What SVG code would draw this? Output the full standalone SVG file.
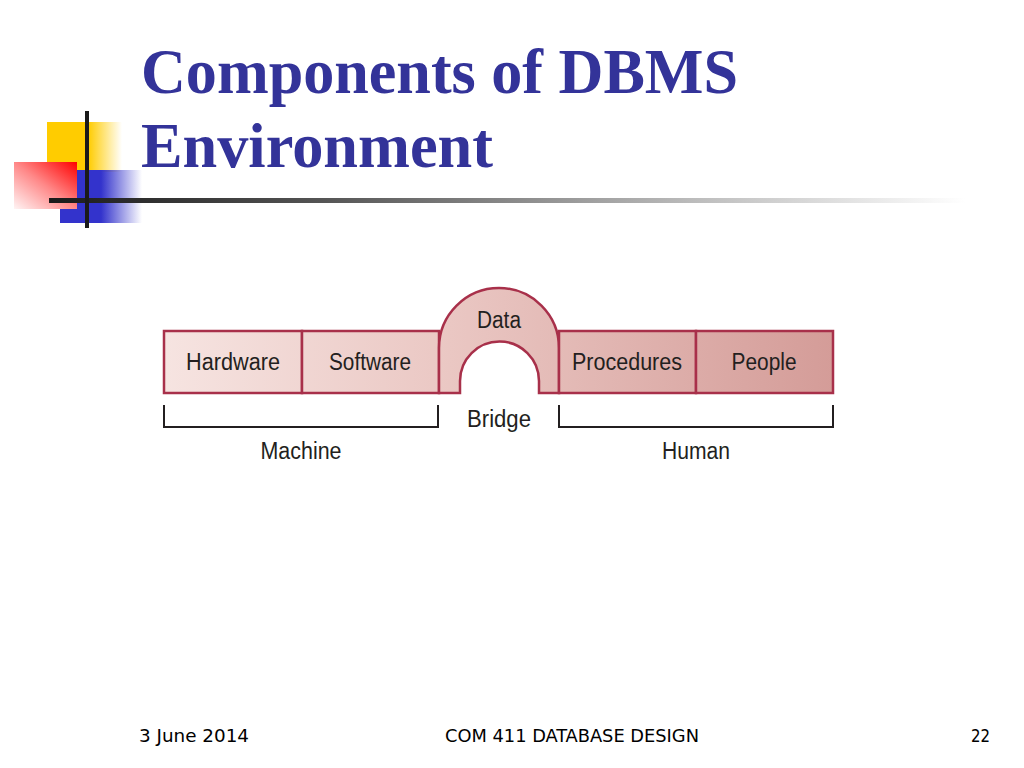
<svg xmlns="http://www.w3.org/2000/svg" width="1024" height="768" viewBox="0 0 1024 768">
<defs>
<linearGradient id="gBox" gradientUnits="userSpaceOnUse" x1="164" y1="0" x2="834" y2="0">
<stop offset="0" stop-color="#f6e4e1"/>
<stop offset="0.4" stop-color="#ebc9c5"/>
<stop offset="1" stop-color="#d49c98"/>
</linearGradient>
<linearGradient id="gYel" x1="0" y1="0" x2="1" y2="0">
<stop offset="0" stop-color="#ffcc00"/>
<stop offset="0.55" stop-color="#ffcc00"/>
<stop offset="1" stop-color="#ffcc00" stop-opacity="0"/>
</linearGradient>
<linearGradient id="gBlu" x1="0" y1="0" x2="1" y2="0">
<stop offset="0" stop-color="#3333cc"/>
<stop offset="0.5" stop-color="#3333cc"/>
<stop offset="1" stop-color="#3333cc" stop-opacity="0"/>
</linearGradient>
<linearGradient id="gRed" x1="1" y1="0" x2="0" y2="1">
<stop offset="0" stop-color="#ff0000"/>
<stop offset="0.5" stop-color="#ff8888"/>
<stop offset="1" stop-color="#fff4f4"/>
</linearGradient>
<linearGradient id="gLine" gradientUnits="userSpaceOnUse" x1="49" y1="0" x2="965" y2="0">
<stop offset="0" stop-color="#1a1a1a"/>
<stop offset="0.3" stop-color="#555555"/>
<stop offset="0.7" stop-color="#bbbbbb"/>
<stop offset="1" stop-color="#ffffff"/>
</linearGradient>
<style>
.box{fill:url(#gBox);stroke:#a8304a;stroke-width:2.5}
.lbl{font-family:"Liberation Sans",Arial,sans-serif;font-size:23px;fill:#231f20;text-anchor:middle}
.brk{fill:none;stroke:#231f20;stroke-width:2}
.title{font-family:"Liberation Serif","Times New Roman",serif;font-weight:bold;font-size:64px;fill:#333399}
.foot{font-family:"DejaVu Sans Condensed","Liberation Sans",sans-serif;font-size:18px;fill:#000000}
</style>
</defs>
<rect width="1024" height="768" fill="#ffffff"/>

<g id="decoration">
<rect x="47" y="122" width="75" height="50" fill="url(#gYel)"/>
<rect x="60" y="170" width="82" height="53" fill="url(#gBlu)"/>
<rect x="14" y="162" width="63" height="47" fill="url(#gRed)"/>
<rect x="49" y="198" width="916" height="5" fill="url(#gLine)"/>
<rect x="85" y="111" width="4" height="117" fill="#1a1a1a"/>
</g>

<g id="title">
<text class="title" x="141" y="93" textLength="597" lengthAdjust="spacingAndGlyphs">Components of DBMS</text>
<text class="title" x="141" y="167" textLength="352" lengthAdjust="spacingAndGlyphs">Environment</text>
</g>

<g id="hardware">
<rect class="box" x="164" y="331" width="138" height="62"/>
<text class="lbl" x="233" y="370" textLength="94" lengthAdjust="spacingAndGlyphs">Hardware</text>
</g>
<g id="software">
<rect class="box" x="302" y="331" width="137" height="62"/>
<text class="lbl" x="370" y="370" textLength="82" lengthAdjust="spacingAndGlyphs">Software</text>
</g>
<g id="data">
<path class="box" d="M439,393 L439,348 A60,60 0 0 1 559,348 L559,393 L539,393 L539,381 A39.5,39.5 0 0 0 460,381 L460,393 Z"/>
<text class="lbl" x="499" y="328" textLength="44" lengthAdjust="spacingAndGlyphs">Data</text>
</g>
<g id="procedures">
<rect class="box" x="559" y="331" width="137" height="62"/>
<text class="lbl" x="627" y="370" textLength="110" lengthAdjust="spacingAndGlyphs">Procedures</text>
</g>
<g id="people">
<rect class="box" x="696" y="331" width="137" height="62"/>
<text class="lbl" x="764" y="370" textLength="65" lengthAdjust="spacingAndGlyphs">People</text>
</g>

<g id="connectors">
<path class="brk" d="M164,405 L164,427 L438,427 L438,405"/>
<path class="brk" d="M559,405 L559,427 L833,427 L833,405"/>
</g>

<g id="machine">
<text class="lbl" x="301" y="459" textLength="81" lengthAdjust="spacingAndGlyphs">Machine</text>
</g>
<g id="bridge">
<text class="lbl" x="499" y="427" textLength="64" lengthAdjust="spacingAndGlyphs">Bridge</text>
</g>
<g id="human">
<text class="lbl" x="696" y="459" textLength="68" lengthAdjust="spacingAndGlyphs">Human</text>
</g>

<g id="footer">
<text class="foot" x="139" y="742" textLength="110" lengthAdjust="spacingAndGlyphs">3 June 2014</text>
<text class="foot" x="445" y="742" textLength="254" lengthAdjust="spacingAndGlyphs">COM 411 DATABASE DESIGN</text>
<text class="foot" x="971" y="742" textLength="19" lengthAdjust="spacingAndGlyphs">22</text>
</g>
</svg>
